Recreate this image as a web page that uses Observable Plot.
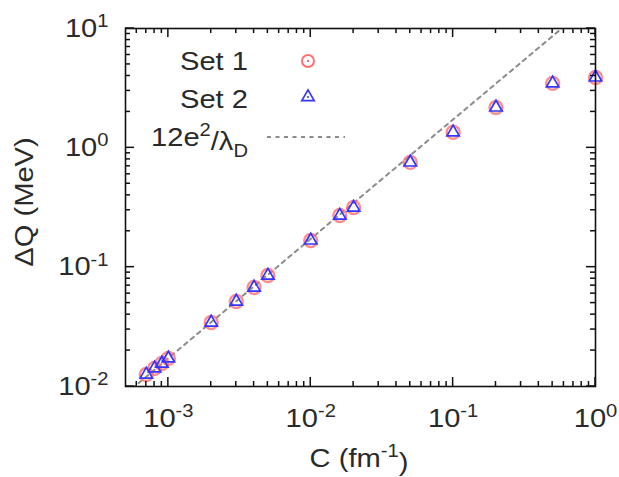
<!DOCTYPE html>
<html><head><meta charset="utf-8">
<script src="https://cdn.jsdelivr.net/npm/d3@7"></script>
<script src="https://cdn.jsdelivr.net/npm/@observablehq/plot@0.6"></script>
<style>
body{margin:0;background:#fff}
svg{font-family:"Liberation Sans",Arial,sans-serif}
</style>
</head><body><div id="chart"></div>
<script>
// ---- data ----
const C = [0.0007, 0.0008, 0.0009, 0.001, 0.002, 0.003, 0.004, 0.005, 0.01, 0.016, 0.02, 0.05, 0.1, 0.2, 0.5, 1.0];
const set1 = [0.0126, 0.0142, 0.0156, 0.0172, 0.0344, 0.0516, 0.0676, 0.0851, 0.1675, 0.271, 0.316, 0.755, 1.35, 2.18, 3.47, 3.89];
const set2 = [0.0126, 0.0142, 0.0156, 0.0172, 0.0344, 0.0516, 0.0676, 0.0851, 0.1675, 0.271, 0.316, 0.755, 1.35, 2.18, 3.47, 3.89];
const lineC = [0.0005, 0.6];
const lineQ = [0.00864, 10.37];
const xMajor = [0.001, 0.01, 0.1, 1];
const xMinor = [0.0006, 0.0007, 0.0008, 0.0009,
  0.002, 0.003, 0.004, 0.005, 0.006, 0.007, 0.008, 0.009,
  0.02, 0.03, 0.04, 0.05, 0.06, 0.07, 0.08, 0.09,
  0.2, 0.3, 0.4, 0.5, 0.6, 0.7, 0.8, 0.9];
const yMajor = [0.01, 0.1, 1, 10];
const yMinor = [0.02, 0.03, 0.04, 0.05, 0.06, 0.07, 0.08, 0.09,
  0.2, 0.3, 0.4, 0.5, 0.6, 0.7, 0.8, 0.9,
  2, 3, 4, 5, 6, 7, 8, 9];
const xExp = ["-3", "-2", "-1", "0"];
const yExp = ["-2", "-1", "0", "1"];
const legendLabels = ["Set 1", "Set 2"];

const d1 = C.map((c, i) => ({C: c, Q: set1[i]}));
const d2 = C.map((c, i) => ({C: c, Q: set2[i]}));
const dl = lineC.map((c, i) => ({C: c, Q: lineQ[i]}));

const plot = Plot.plot({
  width: 619, height: 477,
  marginLeft: 125, marginRight: 24, marginTop: 28, marginBottom: 91,
  style: {fontFamily: '"Liberation Sans", Arial, sans-serif', fontSize: "26px", color: "#2a2a2a", background: "#fff"},
  x: {type: "log", domain: [0.0005, 1], label: null},
  y: {type: "log", domain: [0.01, 10], label: null},
  marks: [
    Plot.line(dl, {x: "C", y: "Q", stroke: "#8c8c8c", strokeWidth: 2, strokeDasharray: "4,4.5", clip: true}),
    Plot.dot(d1, {x: "C", y: "Q", r: 6.5, stroke: "#ff7070", strokeWidth: 2.4, strokeOpacity: 0.8}),
    Plot.dot(d2, {x: "C", y: "Q", symbol: "triangle", r: 4.6, stroke: "#3535ff", strokeWidth: 1.7}),
    Plot.axisX(xMajor, {anchor: "bottom", tickSize: 0, tickPadding: 22, fontSize: 26, tickFormat: d => "10^" + xExp[xMajor.indexOf(d)]}),
    Plot.axisY(yMajor, {anchor: "left", tickSize: 0, tickPadding: 17, fontSize: 26, tickFormat: d => "10^" + yExp[yMajor.indexOf(d)]}),
    Plot.frame({stroke: "#111", strokeWidth: 1.6})
  ]
});

document.getElementById("chart").appendChild(plot);
const svg = d3.select(plot);
const sx = plot.scale("x"), sy = plot.scale("y");
const [x0, x1] = sx.range, [y0, y1] = sy.range; // y0 bottom, y1 top

// inward ticks on all four sides, positioned by the plot's own scales
const tg = svg.append("g").attr("stroke", "#111").attr("stroke-width", 1.5);
function ticksX(vals, len) {
  for (const v of vals) {
    const x = sx.apply(v);
    tg.append("line").attr("x1", x).attr("x2", x).attr("y1", y0).attr("y2", y0 - len);
    tg.append("line").attr("x1", x).attr("x2", x).attr("y1", y1).attr("y2", y1 + len);
  }
}
function ticksY(vals, len) {
  for (const v of vals) {
    const y = sy.apply(v);
    tg.append("line").attr("y1", y).attr("y2", y).attr("x1", x0).attr("x2", x0 + len);
    tg.append("line").attr("y1", y).attr("y2", y).attr("x1", x1).attr("x2", x1 - len);
  }
}
ticksX(xMajor, 9); ticksX(xMinor, 5);
ticksY(yMajor, 9); ticksY(yMinor, 5);

// superscripts in tick labels
svg.selectAll("text").each(function () {
  const t = this.textContent;
  if (t.startsWith("10^")) {
    const s = d3.select(this);
    s.text(null);
    s.append("tspan").text("10");
    s.append("tspan").attr("dy", "-0.55em").attr("font-size", "18px").text(t.slice(3));
  }
});

const txtFill = "#2a2a2a";
// axis titles
const xl = svg.append("text").attr("x", 359).attr("y", 467).attr("text-anchor", "middle")
  .attr("font-size", 26).attr("fill", txtFill);
xl.append("tspan").text("C (fm");
xl.append("tspan").attr("dy", "-0.55em").attr("font-size", "18px").text("-1");
xl.append("tspan").attr("dy", "0.55em").text(")");

svg.append("text").attr("transform", "translate(33,202) rotate(-90)").attr("text-anchor", "middle")
  .attr("font-size", 26).attr("fill", txtFill).text("ΔQ (MeV)");

// legend
const lg = svg.append("g");
lg.append("text").attr("x", 248).attr("y", 70).attr("text-anchor", "end").attr("font-size", 26).attr("fill", txtFill).text(legendLabels[0]);
lg.append("circle").attr("cx", 308).attr("cy", 61).attr("r", 6).attr("fill", "none").attr("stroke", "#ff7070").attr("stroke-width", 2);
lg.append("circle").attr("cx", 308).attr("cy", 61).attr("r", 1.2).attr("fill", "#ff7070");
lg.append("text").attr("x", 248).attr("y", 108).attr("text-anchor", "end").attr("font-size", 26).attr("fill", txtFill).text(legendLabels[1]);
lg.append("path").attr("transform", "translate(308,97)").attr("d", d3.symbol(d3.symbolTriangle, Math.PI * 4.6 * 4.6)())
  .attr("fill", "none").attr("stroke", "#3535ff").attr("stroke-width", 1.7);
lg.append("circle").attr("cx", 308).attr("cy", 97).attr("r", 1).attr("fill", "#3535ff");
const l3 = lg.append("text").attr("x", 248).attr("y", 146).attr("text-anchor", "end").attr("font-size", 26).attr("fill", txtFill);
l3.append("tspan").text("12e");
l3.append("tspan").attr("dy", "-0.55em").attr("font-size", "18px").text("2");
l3.append("tspan").attr("dy", "0.55em").text("/λ");
l3.append("tspan").attr("dy", "0.35em").attr("font-size", "18px").text("D");
lg.append("line").attr("x1", 267).attr("x2", 345).attr("y1", 137).attr("y2", 137)
  .attr("stroke", "#8c8c8c").attr("stroke-width", 2).attr("stroke-dasharray", "4,4.5");

// widen glyphs slightly to match reference font width
svg.selectAll("text").each(function () {
  const L = this.getComputedTextLength();
  if (L > 0) {
    this.setAttribute("textLength", (L * 1.12).toFixed(1));
    this.setAttribute("lengthAdjust", "spacingAndGlyphs");
  }
});
</script>
</body></html>
